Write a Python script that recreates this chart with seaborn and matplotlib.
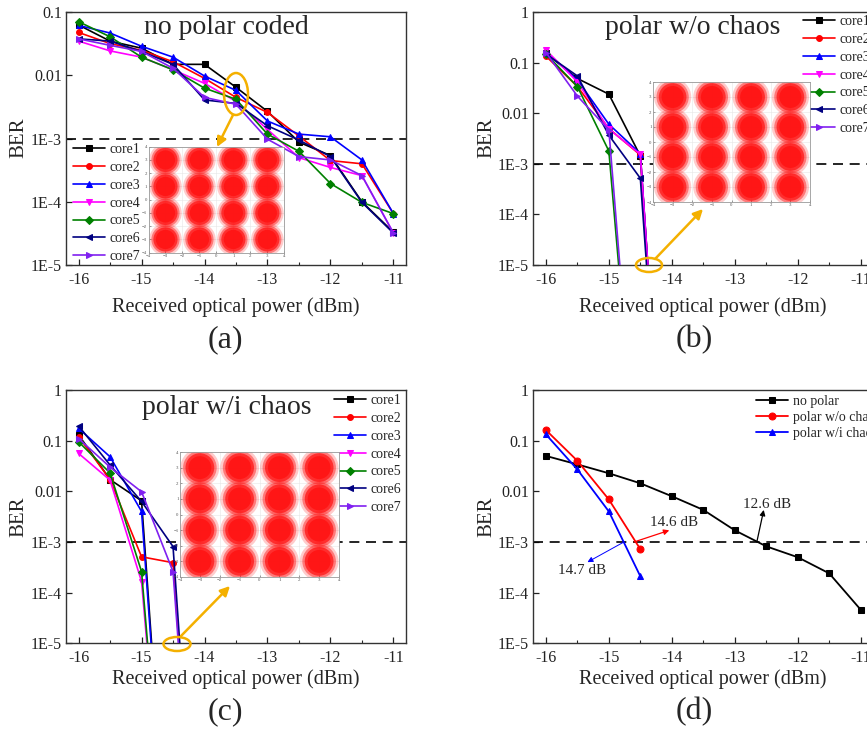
import numpy as np
import pandas as pd
import matplotlib
matplotlib.use("Agg")
import matplotlib.pyplot as plt
import seaborn as sns
from matplotlib.patches import Ellipse, FancyArrowPatch
from matplotlib.ticker import FixedLocator, FixedFormatter, MultipleLocator, NullLocator

sns.set_theme(style="ticks")
plt.rcParams['font.family'] = ['Liberation Serif', 'DejaVu Serif']

# ---------------- data ----------------
power_a = [-16, -15.5, -15, -14.5, -14, -13.5, -13, -12.5, -12, -11.5, -11]
a_core1 = [0.063, 0.035, 0.027, 0.015, 0.015, 0.0065, 0.0027, 0.00088, 0.00054, 1.0e-4, 3.3e-5]
a_core2 = [0.048, 0.032, 0.025, 0.0165, 0.009, 0.0045, 0.0026, 0.0011, 0.00045, 0.0004, 6.5e-5]
a_core3 = [0.062, 0.047, 0.029, 0.0195, 0.0098, 0.0058, 0.0019, 0.00118, 0.00107, 0.00046, 6.5e-5]
a_core4 = [0.035, 0.0245, 0.0195, 0.0123, 0.0075, 0.0039, 0.0014, 0.0005, 0.00035, 0.00026, 3.2e-5]
a_core5 = [0.071, 0.041, 0.0195, 0.0123, 0.0063, 0.0042, 0.00118, 0.00063, 0.000195, 9.8e-5, 6.5e-5]
a_core6 = [0.038, 0.035, 0.024, 0.015, 0.0041, 0.0036, 0.0016, 0.00095, 0.00052, 9.8e-5, 3.2e-5]
a_core7 = [0.038, 0.030, 0.024, 0.013, 0.0045, 0.0035, 0.00098, 0.00052, 0.00046, 0.00026, 3.2e-5]

power_bc = [-16, -15.5, -15, -14.5, -14]
b_core1 = [0.155, 0.049, 0.024, 0.00144, 1e-12]
b_core2 = [0.136, 0.034, 0.005, 0.0015, 1e-12]
b_core3 = [0.166, 0.046, 0.0061, 0.0016, 1e-12]
b_core4 = [0.18, 0.042, 0.0049, 0.00155, 1e-12]
b_core5 = [0.15, 0.034, 0.0018, 1e-10, 1e-14]
b_core6 = [0.15, 0.055, 0.0037, 0.00052, 1e-12]
b_core7 = [0.16, 0.022, 0.0047, 1e-10, 1e-14]

c_core1 = [0.13, 0.017, 0.0065, 1e-11, 1e-14]
c_core2 = [0.12, 0.017, 0.00051, 0.00039, 1e-12]
c_core3 = [0.175, 0.048, 0.004, 1e-11, 1e-14]
c_core4 = [0.056, 0.0166, 0.000165, 1e-11, 1e-14]
c_core5 = [0.095, 0.023, 0.00026, 1e-11, 1e-14]
c_core6 = [0.195, 0.033, 0.0063, 0.00081, 1e-12]
c_core7 = [0.11, 0.030, 0.0098, 0.00026, 1e-12]

power_d_no = [-16, -15.5, -15, -14.5, -14, -13.5, -13, -12.5, -12, -11.5, -11]
d_no_polar = [0.05, 0.034, 0.0227, 0.0144, 0.008, 0.0043, 0.0017, 0.00082, 0.0005, 0.00024, 4.6e-5]
power_d_polar = [-16, -15.5, -15, -14.5]
d_polar_wo = [0.162, 0.040, 0.0069, 0.00072]
d_polar_wi = [0.133, 0.027, 0.004, 0.00021]

core_names = ["core1", "core2", "core3", "core4", "core5", "core6", "core7"]
d_names = ["no polar", "polar w/o chaos", "polar w/i chaos"]
qam_levels = [-3, -1, 1, 3]

yt_a = [1e-5, 1e-4, 1e-3, 1e-2, 1e-1]
yt_a_lab = ["1E-5", "1E-4", "1E-3", "0.01", "0.1"]
yt_b = [1e-5, 1e-4, 1e-3, 1e-2, 1e-1, 1]
yt_b_lab = ["1E-5", "1E-4", "1E-3", "0.01", "0.1", "1"]
xt = [-16, -15, -14, -13, -12, -11]
xt_lab = ["-16", "-15", "-14", "-13", "-12", "-11"]

# ---------------- styles ----------------
core_colors = ["#000000", "#FF0000", "#0000FF", "#FF00FF", "#008000", "#000080", "#8020F0"]
core_markers = ["s", "o", "^", "v", "D", "<", ">"]
ORANGE = "#F4B000"

W, H = 867, 734
fig = plt.figure(figsize=(W / 100, H / 100), dpi=100)


def rect(l, t, r, b):
    return [l / W, 1 - b / H, (r - l) / W, (b - t) / H]


def fp(x, y):
    return (x / W, 1 - y / H)


def style_axes(ax, yt, ylab):
    ax.set_yscale("log")
    ax.set_xlim(-16.2, -10.8)
    ax.set_ylim(yt[0], yt[-1])
    ax.yaxis.set_major_locator(FixedLocator(yt))
    ax.yaxis.set_major_formatter(FixedFormatter(ylab))
    ax.yaxis.set_minor_locator(NullLocator())
    ax.xaxis.set_major_locator(FixedLocator(xt))
    ax.xaxis.set_major_formatter(FixedFormatter(xt_lab))
    ax.xaxis.set_minor_locator(MultipleLocator(0.5))
    ax.tick_params(axis="both", which="major", direction="in", length=4, width=0.9,
                   labelsize=11.5, colors="#222222")
    ax.tick_params(axis="x", which="major", pad=5)
    ax.tick_params(axis="y", which="major", pad=3)
    ax.tick_params(axis="x", which="minor", direction="in", length=2.5, width=0.8)
    for s in ax.spines.values():
        s.set_color("#333333")
        s.set_linewidth(1.0)
    ax.set_xlabel("")
    ax.set_ylabel("")
    ax.axhline(1e-3, color="black", lw=1.2, ls=(0, (6, 4)), zorder=1)
    ax.set_facecolor("white")


def plot_cores(ax, x, series, ms=4.2):
    for name, vals, c, m in zip(core_names, series, core_colors, core_markers):
        df = pd.DataFrame({"x": x, "y": vals})
        sns.lineplot(data=df, x="x", y="y", ax=ax, color=c, marker=m, markersize=ms,
                     markeredgecolor=c, linewidth=1.2, label=name, sort=False,
                     errorbar=None, zorder=3)


def legend(ax, x_px, y_px, fs=10, spacing=0.35):
    leg = ax.legend(loc="upper left", bbox_to_anchor=fp(x_px, y_px),
                    bbox_transform=fig.transFigure, frameon=False, fontsize=fs,
                    handlelength=2.3, handletextpad=0.35, labelspacing=spacing,
                    borderpad=0, borderaxespad=0)
    return leg


def inset(r, blob_scale):
    ia = fig.add_axes(r)
    ia.set_facecolor("white")
    gx, gy = np.meshgrid(qam_levels, qam_levels)
    gx, gy = gx.ravel(), gy.ravel()
    for s, a in [(1.0, 0.22), (0.75, 0.45), (0.55, 0.75), (0.35, 0.95)]:
        ia.scatter(gx, gy, s=1000 * blob_scale * s, color="#FF1515", alpha=a,
                   edgecolors="none", zorder=2)
    ia.set_xlim(-4, 4)
    ia.set_ylim(-4, 4)
    ia.set_xticks(range(-4, 5))
    ia.set_yticks(range(-4, 5))
    ia.tick_params(labelsize=3.5, length=1.5, width=0.4, pad=1, direction="in",
                   colors="#555555")
    ia.grid(True, color="#e6e6e6", lw=0.4, zorder=0)
    for s in ia.spines.values():
        s.set_color("#999999")
        s.set_linewidth(0.6)
    return ia


def ellipse(cx, cy, w, h):
    e = Ellipse(fp(cx, cy), w / W, h / H, transform=fig.transFigure, fill=False,
                ec=ORANGE, lw=1.8, zorder=10)
    fig.add_artist(e)


def oarrow(x0, y0, x1, y1):
    a = FancyArrowPatch(fp(x0, y0), fp(x1, y1), transform=fig.transFigure,
                        arrowstyle="-|>", mutation_scale=14, color=ORANGE, lw=1.8,
                        shrinkA=0, shrinkB=0, zorder=10)
    fig.add_artist(a)


# ---------------- panel (a) ----------------
ax_a = fig.add_axes(rect(66, 12.3, 406, 265))
plot_cores(ax_a, power_a, [a_core1, a_core2, a_core3, a_core4, a_core5, a_core6, a_core7])
style_axes(ax_a, yt_a, yt_a_lab)
legend(ax_a, 73, 143)
inset(rect(148.5, 146.7, 284.3, 252.7), 0.55)
ellipse(236, 94, 24, 42)
oarrow(233, 115, 217, 147)

# ---------------- panel (b) ----------------
ax_b = fig.add_axes(rect(533.3, 12.3, 873.3, 265))
plot_cores(ax_b, power_bc, [b_core1, b_core2, b_core3, b_core4, b_core5, b_core6, b_core7])
style_axes(ax_b, yt_b, yt_b_lab)
legend(ax_b, 803, 15)
inset(rect(653, 82, 810, 202), 0.72)
ellipse(649, 265, 26, 14)
oarrow(655, 259, 703, 209)

# ---------------- panel (c) ----------------
ax_c = fig.add_axes(rect(66, 390, 406, 643.3))
plot_cores(ax_c, power_bc, [c_core1, c_core2, c_core3, c_core4, c_core5, c_core6, c_core7])
style_axes(ax_c, yt_b, yt_b_lab)
legend(ax_c, 334, 394)
inset(rect(180, 452, 339, 577), 0.78)
ellipse(177, 644, 27, 14)
oarrow(181, 636, 230, 586)

# ---------------- panel (d) ----------------
ax_d = fig.add_axes(rect(533.3, 390, 873.3, 643.3))
for name, xs, vals, c, m in zip(d_names, [power_d_no, power_d_polar, power_d_polar],
                                [d_no_polar, d_polar_wo, d_polar_wi],
                                ["#000000", "#FF0000", "#0000FF"], ["s", "o", "^"]):
    df = pd.DataFrame({"x": xs, "y": vals})
    sns.lineplot(data=df, x="x", y="y", ax=ax_d, color=c, marker=m, markersize=5,
                 markeredgecolor=c, linewidth=1.3, label=name, sort=False,
                 errorbar=None, zorder=3)
style_axes(ax_d, yt_b, yt_b_lab)
legend(ax_d, 756, 395, fs=10, spacing=0.2)

ax_d.annotate("", xy=(-12.54, 4.3e-3), xytext=(-12.65, 1e-3),
              arrowprops=dict(arrowstyle="-|>", color="black", lw=0.9,
                              mutation_scale=8, shrinkA=0, shrinkB=0))
ax_d.text(-12.49, 5.6e-3, "12.6 dB", ha="center", va="center", fontsize=11)
ax_d.annotate("", xy=(-14.04, 1.7e-3), xytext=(-14.6, 1e-3),
              arrowprops=dict(arrowstyle="-|>", color="red", lw=0.9,
                              mutation_scale=8, shrinkA=0, shrinkB=0))
ax_d.text(-13.96, 2.45e-3, "14.6 dB", ha="center", va="center", fontsize=11)
ax_d.annotate("", xy=(-15.34, 4.0e-4), xytext=(-14.76, 1e-3),
              arrowprops=dict(arrowstyle="-|>", color="blue", lw=0.7,
                              mutation_scale=8, shrinkA=0, shrinkB=0))
ax_d.text(-15.43, 2.75e-4, "14.7 dB", ha="center", va="center", fontsize=11)

# ---------------- text ----------------
fig.text(*fp(226, 27), "no polar coded", ha="center", va="center", fontsize=20)
fig.text(*fp(693, 28), "polar w/o chaos", ha="center", va="center", fontsize=20)
fig.text(*fp(227, 408), "polar w/i chaos", ha="center", va="center", fontsize=20)

for (x, y) in [(19, 138), (487, 138), (19, 517), (487, 517)]:
    fig.text(*fp(x, y), "BER", ha="center", va="center", rotation=90, fontsize=15)
for (x, y) in [(236, 307), (703, 307), (236, 679), (703, 679)]:
    fig.text(*fp(x, y), "Received optical power (dBm)", ha="center", va="center",
             fontsize=14.5)
for (x, y, t) in [(225, 340, "(a)"), (694, 340, "(b)"), (225, 712, "(c)"), (694, 712, "(d)")]:
    fig.text(*fp(x, y), t, ha="center", va="center", fontsize=23)

fig.savefig("out.png", dpi=100)
